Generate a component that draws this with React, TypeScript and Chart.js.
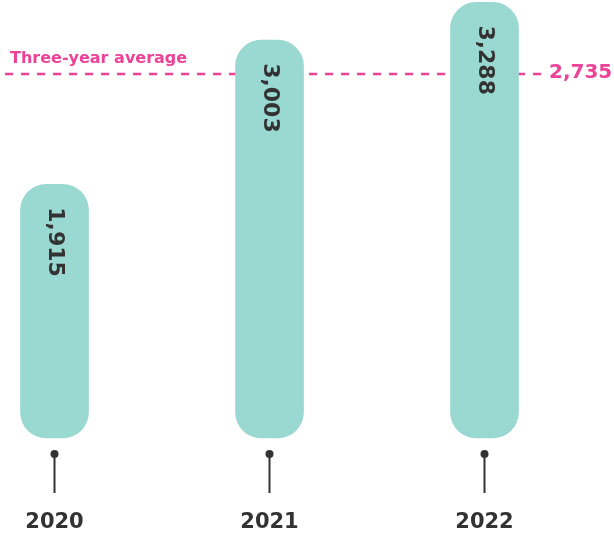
import React, { useEffect, useRef } from "react";
import { Chart, registerables } from "chart.js";

Chart.register(...registerables);

const years = ["2020", "2021", "2022"];
const values = [1915, 3003, 3288];
const averageValue = 2735;
const averageLabel = "Three-year average";
const averageText = "2,735";

const TEAL = "#9ad8d2";
const PINK = "#ec4399";
const DARK = "#333333";
const FONT = "'DejaVu Sans', Verdana, sans-serif";

const fmt = (v: number) => v.toLocaleString("en-US");

const overlay = {
  id: "overlay",
  beforeDatasetsDraw(chart: any) {
    const { ctx, scales } = chart;
    const y = Math.round(scales.y.getPixelForValue(averageValue)) - 2;
    ctx.save();
    ctx.strokeStyle = PINK;
    ctx.lineWidth = 2.5;
    ctx.setLineDash([8, 8]);
    ctx.beginPath();
    ctx.moveTo(5, y);
    ctx.lineTo(542, y);
    ctx.stroke();
    ctx.setLineDash([]);
    ctx.fillStyle = PINK;
    ctx.font = `bold 16px ${FONT}`;
    ctx.textAlign = "left";
    ctx.textBaseline = "alphabetic";
    ctx.fillText(averageLabel, 10, y - 11);
    ctx.font = `bold 20px ${FONT}`;
    ctx.fillText(averageText, 549, y + 4);
    ctx.restore();
  },
  afterDatasetsDraw(chart: any) {
    const { ctx, scales } = chart;
    const meta = chart.getDatasetMeta(0);
    ctx.save();
    meta.data.forEach((bar: any, i: number) => {
      const x = bar.x;
      const top = bar.y;
      // value label, rotated
      ctx.save();
      ctx.translate(x, top + 23);
      ctx.rotate(Math.PI / 2);
      ctx.fillStyle = DARK;
      ctx.font = `bold 22px ${FONT}`;
      ctx.textAlign = "left";
      ctx.textBaseline = "middle";
      ctx.fillText(fmt(values[i]), 0, 0);
      ctx.restore();
      // pin
      const base = scales.y.getPixelForValue(0);
      ctx.strokeStyle = DARK;
      ctx.fillStyle = DARK;
      ctx.lineWidth = 2;
      ctx.beginPath();
      ctx.moveTo(x, base + 16);
      ctx.lineTo(x, base + 55);
      ctx.stroke();
      ctx.beginPath();
      ctx.arc(x, base + 16, 4, 0, Math.PI * 2);
      ctx.fill();
      // year label
      ctx.font = `bold 21px ${FONT}`;
      ctx.textAlign = "center";
      ctx.textBaseline = "alphabetic";
      ctx.fillText(years[i], x, base + 90);
    });
    ctx.restore();
  },
};

export default function App() {
  const ref = useRef<HTMLCanvasElement>(null);
  useEffect(() => {
    if (!ref.current) return;
    const chart = new Chart(ref.current, {
      type: "bar",
      data: {
        labels: years,
        datasets: [
          {
            data: values,
            backgroundColor: TEAL,
            borderRadius: 26,
            borderSkipped: false,
            barThickness: 68,
            clip: false as any,
          },
        ],
      },
      options: {
        animation: false,
        responsive: false,
        maintainAspectRatio: false,
        layout: { padding: { left: 54.5, right: 129.5, top: 0, bottom: 97 } },
        plugins: { legend: { display: false }, tooltip: { enabled: false } },
        scales: {
          x: { display: false, offset: false },
          y: { display: false, min: 0, max: 3306 },
        },
      },
      plugins: [overlay],
    });
    return () => chart.destroy();
  }, []);
  return (
    <div style={{ position: "fixed", left: 0, top: 0, width: 614, height: 535, background: "#fff" }}>
      <canvas ref={ref} width={614} height={535} style={{ width: 614, height: 535 }} />
    </div>
  );
}
